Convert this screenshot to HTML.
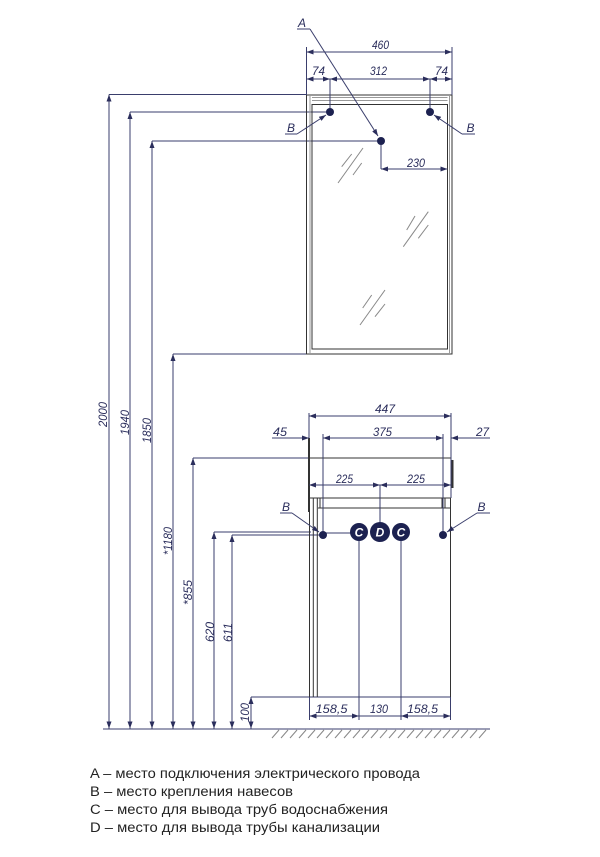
<!DOCTYPE html>
<html><head><meta charset="utf-8"><style>
html,body{margin:0;padding:0;background:#fff;}
svg{display:block;}
.d{stroke:#3a3e6c;stroke-width:1;fill:none;}
.f{stroke:#333;stroke-width:1;fill:none;}
.g{stroke:#888;stroke-width:1;fill:none;}
.t{font-family:"Liberation Sans Narrow","Liberation Sans",sans-serif;font-style:italic;font-size:12px;fill:#2b2e5c;}
.lg{font-family:"Liberation Sans","DejaVu Sans",sans-serif;font-size:13.5px;fill:#222;}
.ct{font-family:"Liberation Sans",sans-serif;font-style:italic;font-weight:bold;font-size:12px;fill:#fff;}
</style></head><body>
<svg width="600" height="857" viewBox="0 0 600 857" xmlns="http://www.w3.org/2000/svg">
<defs>
<marker id="a" viewBox="0 0 7 5" refX="7" refY="2.5" markerWidth="7" markerHeight="5" markerUnits="userSpaceOnUse" orient="auto-start-reverse">
<path d="M0,0 L7,2.5 L0,5 z" fill="#2b2e5c"/>
</marker>
</defs>

<!-- left vertical dimension lines -->
<g class="d">
<line x1="109" y1="94.5" x2="109" y2="728.5" marker-start="url(#a)" marker-end="url(#a)"/>
<line x1="130" y1="112" x2="130" y2="728.5" marker-start="url(#a)" marker-end="url(#a)"/>
<line x1="152" y1="141" x2="152" y2="728.5" marker-start="url(#a)" marker-end="url(#a)"/>
<line x1="173" y1="354" x2="173" y2="728.5" marker-start="url(#a)" marker-end="url(#a)"/>
<line x1="193" y1="458" x2="193" y2="728.5" marker-start="url(#a)" marker-end="url(#a)"/>
<line x1="214" y1="532" x2="214" y2="728.5" marker-start="url(#a)" marker-end="url(#a)"/>
<line x1="232" y1="535" x2="232" y2="728.5" marker-start="url(#a)" marker-end="url(#a)"/>
<line x1="251" y1="697" x2="251" y2="728.5" marker-start="url(#a)" marker-end="url(#a)"/>
<!-- horizontal extension lines -->
<line x1="109" y1="94.5" x2="306" y2="94.5"/>
<line x1="130" y1="112" x2="330" y2="112"/>
<line x1="152" y1="141" x2="381" y2="141"/>
<line x1="173" y1="354" x2="306" y2="354"/>
<line x1="193" y1="458" x2="309" y2="458"/>
<line x1="214" y1="532" x2="311" y2="532"/>
<line x1="232" y1="535" x2="323" y2="535"/>
<line x1="251" y1="697" x2="450" y2="697"/>
<line x1="103" y1="729" x2="490" y2="729"/>
</g>

<!-- rotated dimension texts -->
<g class="t">
<text transform="translate(107,414.5) rotate(-90)" text-anchor="middle" textLength="25" lengthAdjust="spacingAndGlyphs">2000</text>
<text transform="translate(129,422.5) rotate(-90)" text-anchor="middle" textLength="25" lengthAdjust="spacingAndGlyphs">1940</text>
<text transform="translate(151,430.5) rotate(-90)" text-anchor="middle" textLength="25" lengthAdjust="spacingAndGlyphs">1850</text>
<text transform="translate(172,541) rotate(-90)" text-anchor="middle" textLength="28" lengthAdjust="spacingAndGlyphs">*1180</text>
<text transform="translate(192,592.5) rotate(-90)" text-anchor="middle" textLength="25" lengthAdjust="spacingAndGlyphs">*855</text>
<text transform="translate(214,632) rotate(-90)" text-anchor="middle" textLength="20" lengthAdjust="spacingAndGlyphs">620</text>
<text transform="translate(232,632.5) rotate(-90)" text-anchor="middle" textLength="19" lengthAdjust="spacingAndGlyphs">611</text>
<text transform="translate(249,712.5) rotate(-90)" text-anchor="middle" textLength="19" lengthAdjust="spacingAndGlyphs">100</text>
</g>

<!-- MIRROR -->
<g class="f">
<rect x="306.5" y="95" width="145.5" height="259"/>
<line x1="312" y1="97.5" x2="447.5" y2="97.5" stroke="#999"/>
<line x1="312" y1="100.5" x2="447.5" y2="100.5" stroke="#999"/>
<rect x="312" y="104.5" width="135.5" height="244.5"/>
<line x1="310" y1="95" x2="310" y2="354" stroke="#999"/>
<line x1="449.5" y1="95" x2="449.5" y2="354" stroke="#999"/>
</g>
<!-- glass marks -->
<g class="g" stroke="#777">
<line x1="338" y1="183" x2="363" y2="148"/>
<line x1="341.7" y1="166.7" x2="351.7" y2="154"/>
<line x1="353" y1="175" x2="361.7" y2="163"/>
<line x1="403.3" y1="246.7" x2="428.3" y2="211.7"/>
<line x1="406.7" y1="230" x2="415" y2="216"/>
<line x1="418.3" y1="238.3" x2="428.3" y2="225"/>
<line x1="360" y1="325" x2="385" y2="290"/>
<line x1="362.7" y1="308" x2="371.7" y2="295"/>
<line x1="375" y1="316.7" x2="385" y2="304"/>
</g>

<!-- top dimensions -->
<g class="d">
<line x1="306.5" y1="47" x2="306.5" y2="95"/>
<line x1="452" y1="47" x2="452" y2="95"/>
<line x1="306.5" y1="52" x2="452" y2="52" marker-start="url(#a)" marker-end="url(#a)"/>
<line x1="306.5" y1="79" x2="330" y2="79" marker-start="url(#a)" marker-end="url(#a)"/>
<line x1="330" y1="79" x2="430" y2="79" marker-start="url(#a)" marker-end="url(#a)"/>
<line x1="430" y1="79" x2="452" y2="79" marker-start="url(#a)" marker-end="url(#a)"/>
<line x1="330" y1="79" x2="330" y2="112"/>
<line x1="430" y1="79" x2="430" y2="112"/>
<!-- A leader -->
<line x1="297" y1="29" x2="310" y2="29"/>
<line x1="310" y1="29" x2="378" y2="136" marker-end="url(#a)"/>
<!-- 230 -->
<line x1="381" y1="141" x2="381" y2="169"/>
<line x1="381" y1="169" x2="447.5" y2="169" marker-start="url(#a)" marker-end="url(#a)"/>
<!-- B leaders top -->
<line x1="285" y1="134" x2="297" y2="134"/>
<line x1="297" y1="134" x2="326" y2="115" marker-end="url(#a)"/>
<line x1="462" y1="134" x2="475" y2="134"/>
<line x1="462" y1="134" x2="434" y2="115" marker-end="url(#a)"/>
</g>
<g fill="#1c2150">
<circle cx="330" cy="112" r="4"/>
<circle cx="430" cy="112" r="4"/>
<circle cx="381" cy="141" r="4"/>
</g>
<g class="t" text-anchor="middle">
<text x="302" y="27">A</text>
<text x="380.5" y="49" textLength="17" lengthAdjust="spacingAndGlyphs">460</text>
<text x="318.5" y="75" textLength="13" lengthAdjust="spacingAndGlyphs">74</text>
<text x="378.5" y="75" textLength="17" lengthAdjust="spacingAndGlyphs">312</text>
<text x="441.5" y="75" textLength="13" lengthAdjust="spacingAndGlyphs">74</text>
<text x="416" y="167" textLength="18" lengthAdjust="spacingAndGlyphs">230</text>
<text x="291" y="132">B</text>
<text x="470.5" y="132">B</text>
</g>

<!-- LOWER CABINET -->
<g class="f">
<line x1="309" y1="458" x2="451" y2="458"/>
<line x1="309" y1="498" x2="451" y2="498"/>
<line x1="318" y1="508" x2="451" y2="508"/>
<line x1="309" y1="438" x2="309" y2="512" stroke-width="2"/>
<line x1="309.5" y1="512" x2="309.5" y2="697"/>
<line x1="313.3" y1="498" x2="313.3" y2="697"/>
<line x1="317.3" y1="498" x2="317.3" y2="697"/>
<line x1="320" y1="498" x2="320" y2="508"/>
<line x1="442" y1="498" x2="442" y2="508"/>
<line x1="445" y1="498" x2="445" y2="508"/>
<line x1="450.5" y1="498" x2="450.5" y2="697"/>
<line x1="452.5" y1="460" x2="452.5" y2="488" stroke-width="2"/>
</g>
<g class="d">
<line x1="309" y1="413" x2="309" y2="438"/>
<line x1="451" y1="413" x2="451" y2="498"/>
<line x1="309" y1="416" x2="451" y2="416" marker-start="url(#a)" marker-end="url(#a)"/>
<line x1="272" y1="438" x2="309" y2="438" marker-end="url(#a)"/>
<line x1="490" y1="438" x2="451" y2="438" marker-end="url(#a)"/>
<line x1="323" y1="438" x2="443" y2="438" marker-start="url(#a)" marker-end="url(#a)"/>
<line x1="323" y1="434" x2="323" y2="535"/>
<line x1="443" y1="434" x2="443" y2="535"/>
<line x1="309" y1="485" x2="380" y2="485" marker-start="url(#a)" marker-end="url(#a)"/>
<line x1="380" y1="485" x2="451" y2="485" marker-start="url(#a)" marker-end="url(#a)"/>
<line x1="380" y1="485" x2="380" y2="524"/>
<line x1="323" y1="533" x2="351" y2="533"/>
<line x1="359" y1="540" x2="359" y2="720"/>
<line x1="401" y1="540" x2="401" y2="720"/>
<line x1="309.5" y1="697" x2="309.5" y2="720"/>
<line x1="450.5" y1="697" x2="450.5" y2="720"/>
<line x1="309.5" y1="716" x2="359" y2="716" marker-start="url(#a)" marker-end="url(#a)"/>
<line x1="359" y1="716" x2="401" y2="716"/>
<line x1="401" y1="716" x2="450.5" y2="716" marker-start="url(#a)" marker-end="url(#a)"/>
<!-- B leaders lower -->
<line x1="280" y1="513" x2="292" y2="513"/>
<line x1="292" y1="513" x2="319" y2="532" marker-end="url(#a)"/>
<line x1="477" y1="513" x2="490" y2="513"/>
<line x1="477" y1="513" x2="447" y2="532" marker-end="url(#a)"/>
</g>
<g fill="#1c2150">
<circle cx="323" cy="535" r="4"/>
<circle cx="443" cy="535" r="4"/>
<circle cx="359" cy="532" r="9"/>
<circle cx="380" cy="532" r="10"/>
<circle cx="401" cy="532" r="9"/>
</g>
<g class="ct" text-anchor="middle">
<text x="359" y="536.5">C</text>
<text x="380" y="536.5">D</text>
<text x="401" y="536.5">C</text>
</g>
<g class="t" text-anchor="middle">
<text x="385" y="413" textLength="20" lengthAdjust="spacingAndGlyphs">447</text>
<text x="280" y="436" textLength="14" lengthAdjust="spacingAndGlyphs">45</text>
<text x="382.5" y="436" textLength="19" lengthAdjust="spacingAndGlyphs">375</text>
<text x="482.5" y="436" textLength="13" lengthAdjust="spacingAndGlyphs">27</text>
<text x="344.5" y="483" textLength="17" lengthAdjust="spacingAndGlyphs">225</text>
<text x="416" y="483" textLength="18" lengthAdjust="spacingAndGlyphs">225</text>
<text x="286" y="511">B</text>
<text x="481.5" y="511">B</text>
<text x="331.5" y="713" textLength="32" lengthAdjust="spacingAndGlyphs">158,5</text>
<text x="379" y="713" textLength="18" lengthAdjust="spacingAndGlyphs">130</text>
<text x="422.5" y="713" textLength="31" lengthAdjust="spacingAndGlyphs">158,5</text>
</g>

<!-- floor hatch -->
<g class="g">
<line x1="272" y1="738" x2="279" y2="730"/>
<line x1="281" y1="738" x2="288" y2="730"/>
<line x1="290" y1="738" x2="297" y2="730"/>
<line x1="299" y1="738" x2="306" y2="730"/>
<line x1="308" y1="738" x2="315" y2="730"/>
<line x1="317" y1="738" x2="324" y2="730"/>
<line x1="326" y1="738" x2="333" y2="730"/>
<line x1="335" y1="738" x2="342" y2="730"/>
<line x1="344" y1="738" x2="351" y2="730"/>
<line x1="353" y1="738" x2="360" y2="730"/>
<line x1="362" y1="738" x2="369" y2="730"/>
<line x1="371" y1="738" x2="378" y2="730"/>
<line x1="380" y1="738" x2="387" y2="730"/>
<line x1="389" y1="738" x2="396" y2="730"/>
<line x1="398" y1="738" x2="405" y2="730"/>
<line x1="407" y1="738" x2="414" y2="730"/>
<line x1="416" y1="738" x2="423" y2="730"/>
<line x1="425" y1="738" x2="432" y2="730"/>
<line x1="434" y1="738" x2="441" y2="730"/>
<line x1="443" y1="738" x2="450" y2="730"/>
<line x1="452" y1="738" x2="459" y2="730"/>
<line x1="461" y1="738" x2="468" y2="730"/>
<line x1="470" y1="738" x2="477" y2="730"/>
<line x1="479" y1="738" x2="486" y2="730"/>
</g>

<!-- legend -->
<g class="lg">
<text x="90" y="778" textLength="330" lengthAdjust="spacingAndGlyphs">A – место подключения электрического провода</text>
<text x="90" y="796" textLength="203" lengthAdjust="spacingAndGlyphs">B – место крепления навесов</text>
<text x="90" y="814" textLength="298" lengthAdjust="spacingAndGlyphs">C – место для вывода труб водоснабжения</text>
<text x="90" y="832" textLength="290" lengthAdjust="spacingAndGlyphs">D – место для вывода трубы канализации</text>
</g>
</svg>
</body></html>
